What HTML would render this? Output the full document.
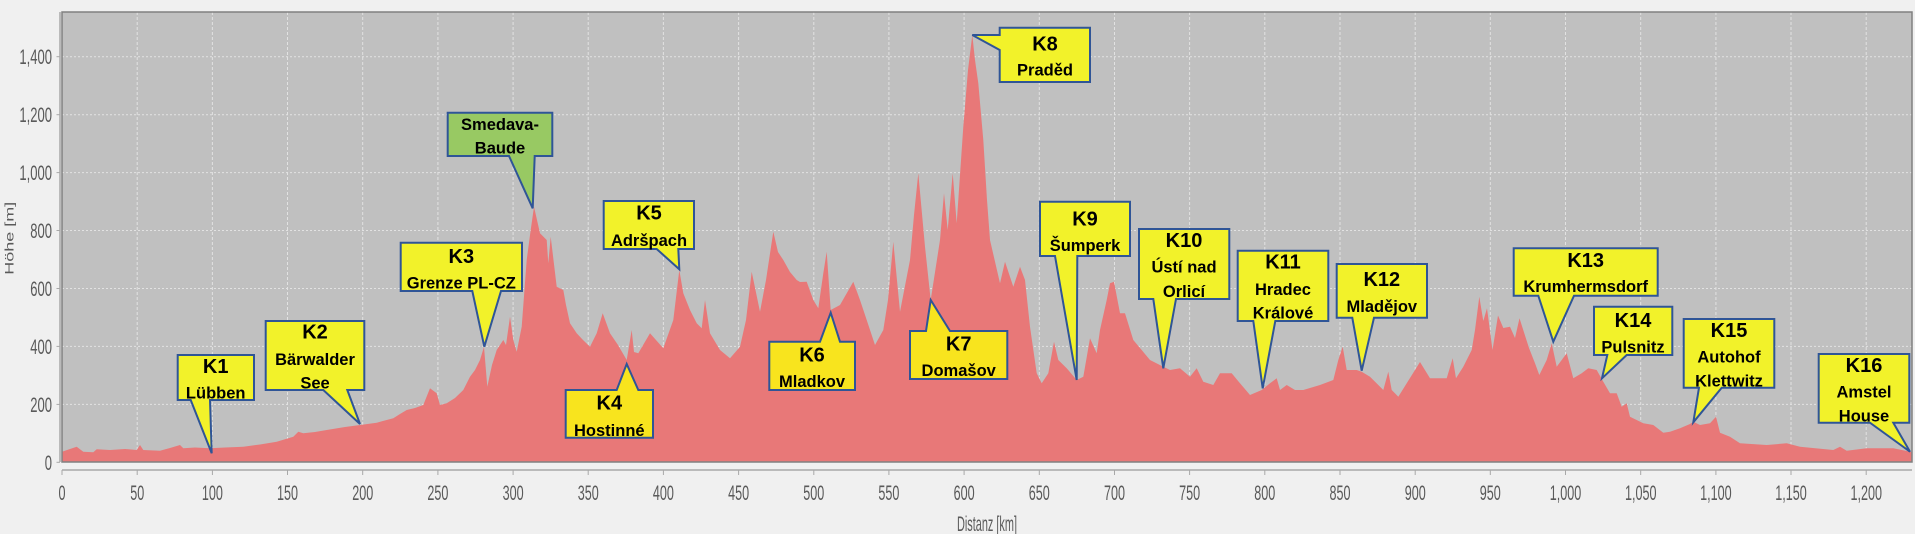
<!DOCTYPE html>
<html><head><meta charset="utf-8"><style>
html,body{margin:0;padding:0;background:#f0f0f0;}
svg{display:block;}
.ax{font-family:"Liberation Sans",sans-serif;font-size:21px;fill:#5a5a5a;}
.cb{font-family:"Liberation Sans",sans-serif;font-weight:bold;fill:#000;text-anchor:middle;}
.k{font-size:20px;}
.n{font-size:16.5px;}
.co{stroke:#2f5597;stroke-width:2;stroke-linejoin:miter;}
</style></head><body>
<svg width="1915" height="534" viewBox="0 0 1915 534" xmlns="http://www.w3.org/2000/svg">
<rect x="0" y="0" width="1915" height="534" fill="#f0f0f0"/>
<rect x="62" y="12" width="1850" height="450" fill="#c0c0c0"/>
<!-- grid -->
<g stroke="#e2e2e2" stroke-width="1" stroke-dasharray="2 2">
<line x1="62" x2="1912" y1="404.4" y2="404.4"/>
<line x1="62" x2="1912" y1="346.4" y2="346.4"/>
<line x1="62" x2="1912" y1="288.5" y2="288.5"/>
<line x1="62" x2="1912" y1="230.5" y2="230.5"/>
<line x1="62" x2="1912" y1="172.6" y2="172.6"/>
<line x1="62" x2="1912" y1="114.7" y2="114.7"/>
<line x1="62" x2="1912" y1="56.7" y2="56.7"/>
</g>
<g stroke="#e2e2e2" stroke-width="1" stroke-dasharray="3 2">
<line y1="12" y2="462" x1="137.2" x2="137.2"/>
<line y1="12" y2="462" x1="212.4" x2="212.4"/>
<line y1="12" y2="462" x1="287.5" x2="287.5"/>
<line y1="12" y2="462" x1="362.7" x2="362.7"/>
<line y1="12" y2="462" x1="437.9" x2="437.9"/>
<line y1="12" y2="462" x1="513.1" x2="513.1"/>
<line y1="12" y2="462" x1="588.2" x2="588.2"/>
<line y1="12" y2="462" x1="663.4" x2="663.4"/>
<line y1="12" y2="462" x1="738.6" x2="738.6"/>
<line y1="12" y2="462" x1="813.8" x2="813.8"/>
<line y1="12" y2="462" x1="888.9" x2="888.9"/>
<line y1="12" y2="462" x1="964.1" x2="964.1"/>
<line y1="12" y2="462" x1="1039.3" x2="1039.3"/>
<line y1="12" y2="462" x1="1114.5" x2="1114.5"/>
<line y1="12" y2="462" x1="1189.6" x2="1189.6"/>
<line y1="12" y2="462" x1="1264.8" x2="1264.8"/>
<line y1="12" y2="462" x1="1340.0" x2="1340.0"/>
<line y1="12" y2="462" x1="1415.2" x2="1415.2"/>
<line y1="12" y2="462" x1="1490.3" x2="1490.3"/>
<line y1="12" y2="462" x1="1565.5" x2="1565.5"/>
<line y1="12" y2="462" x1="1640.7" x2="1640.7"/>
<line y1="12" y2="462" x1="1715.9" x2="1715.9"/>
<line y1="12" y2="462" x1="1791.0" x2="1791.0"/>
<line y1="12" y2="462" x1="1866.2" x2="1866.2"/>
</g>
<!-- profile -->
<polygon fill="#e87878" points="62,462 62,451.7 70,449 76.7,446.7 83.3,451.7 93.3,452.3 96.7,449.3 110,450 125,449 136.7,450 140,445 143.3,450 160,450.7 170,448 180,445 183.3,448.3 195,447.5 210,448.3 225,447.5 243.3,446.7 260,444.5 276.7,441.7 293.3,436.7 298.3,431.7 303.3,433.3 315,432 326.7,430 345,427 360,425 376.7,422.7 393.3,418.3 400,414 406.7,410 415,408 423.3,405 430,388.3 436.7,393.3 440,405 446.7,403.3 455,398 463.3,390 470,376.7 475,370 480,360 484,346.7 487.3,386.7 492,365 496.7,350 503.3,340 506,345 510,316.7 513.3,340 516.7,351.7 521.7,326.7 526.7,260 530,235 534,206.7 540,233.3 546.7,240 548.3,263.3 550.7,236.7 556.7,286.7 563.3,290 566,305 570,323.3 576.7,333.3 583,340 590,346.7 596.7,333.3 602.7,313.3 610,333.3 618,345 626.7,360 631.7,330 634,352 638.3,353.3 650,333.3 663.3,348.3 673.3,320 679.3,270 683.3,293.3 690,310 696.7,323.3 701.7,328.3 705,300 710,333.3 720,350 730,358.3 740,346.7 746,320 751.7,271.7 760,311.7 766,280 773.3,231.7 778,252 783.3,260 790,272 796.7,280 800,282 806.7,281.7 813.3,300 818.3,308.3 823.3,273.3 826.7,251.7 830.7,310 840,305 853.3,281.7 860,300 866.7,320 875,345 883.3,330 888,300 893.3,241.7 900,311.7 910,260 914,215 918.3,173.3 925,246.7 930.7,300 940,240 944,193.3 947.7,230 952.7,173.3 956.7,223.3 963.3,126.7 968,70 972.3,35 975,60 978.3,83.3 983.3,140 987,200 990,240 1000,283.3 1005,261.7 1013.3,286.7 1020,266.7 1025,280 1030,326.7 1036.7,373.3 1041.7,383.3 1048.3,373.3 1054,341.7 1058.3,360 1066.7,368.3 1076.7,380 1083.3,376.7 1090,338.3 1096.7,353.3 1100,330 1106.7,300 1110,283.3 1114,281.7 1120,313.3 1125,313.3 1133.3,340 1140,348 1150,360 1163.3,366.7 1170,370 1180,368.3 1190,376.7 1196.7,368.3 1203.3,381.7 1213.3,385 1220,373.3 1231.7,373.3 1240,383.3 1250,395 1261.7,390 1270,383.3 1276.7,378.3 1280,390 1286.7,385 1295,390 1303.3,390 1320,385 1333.3,380 1338.3,360 1342.7,346.7 1346.7,370 1356.7,370 1361.7,371.7 1370,376.7 1383.3,390 1388.3,371.7 1391.7,390 1398.3,396.7 1410,378 1420,362 1430,378.3 1446.7,378.3 1452.7,358.3 1456,378.3 1463.3,366.7 1471.7,350 1475,330 1479.3,296.7 1483.3,321 1487,308.3 1492.5,350 1498,315.5 1503.3,328 1510,326.7 1515,338 1519.5,318.3 1529,348 1535,363.3 1539.3,375 1546.7,360 1551.7,343.3 1556.7,366.7 1566.7,353.3 1573.3,378.3 1581.7,373.3 1588.3,368.3 1596.7,370 1603.3,381.7 1610,393.3 1616.7,393.3 1621.7,406.7 1626.7,403.3 1630,416.7 1643.3,423.3 1653.3,425 1663.3,432.7 1670,431.7 1680,428.3 1690,424 1693.3,421.7 1700,425 1710,423.3 1716,416.7 1720,432.7 1730,436.7 1740,443.3 1766.7,445 1786.7,443.3 1800,446.7 1833.3,450 1840,446.7 1846.7,450.7 1866.7,448.3 1893.3,448.3 1912,452 1912,462"/>
<!-- plot frame -->
<rect x="62" y="12" width="1850" height="450" fill="none" stroke="#808080" stroke-width="1.5"/>
<!-- axes -->
<line x1="60" y1="12" x2="60" y2="462" stroke="#a8a8a8" stroke-width="1.5"/>
<g stroke="#a8a8a8" stroke-width="1">
<line x1="56.5" x2="60" y1="462.3" y2="462.3"/><line x1="56.5" x2="60" y1="404.4" y2="404.4"/>
<line x1="56.5" x2="60" y1="346.4" y2="346.4"/><line x1="56.5" x2="60" y1="288.5" y2="288.5"/>
<line x1="56.5" x2="60" y1="230.5" y2="230.5"/><line x1="56.5" x2="60" y1="172.6" y2="172.6"/>
<line x1="56.5" x2="60" y1="114.7" y2="114.7"/><line x1="56.5" x2="60" y1="56.7" y2="56.7"/>
</g>
<line x1="62" y1="470" x2="1912" y2="470" stroke="#a8a8a8" stroke-width="1.5"/>
<g stroke="#a8a8a8" stroke-width="1">
<line y1="470" y2="475" x1="62" x2="62"/><line y1="470" y2="475" x1="137.2" x2="137.2"/><line y1="470" y2="475" x1="212.4" x2="212.4"/><line y1="470" y2="475" x1="287.5" x2="287.5"/><line y1="470" y2="475" x1="362.7" x2="362.7"/><line y1="470" y2="475" x1="437.9" x2="437.9"/><line y1="470" y2="475" x1="513.1" x2="513.1"/><line y1="470" y2="475" x1="588.2" x2="588.2"/><line y1="470" y2="475" x1="663.4" x2="663.4"/><line y1="470" y2="475" x1="738.6" x2="738.6"/><line y1="470" y2="475" x1="813.8" x2="813.8"/><line y1="470" y2="475" x1="888.9" x2="888.9"/><line y1="470" y2="475" x1="964.1" x2="964.1"/><line y1="470" y2="475" x1="1039.3" x2="1039.3"/><line y1="470" y2="475" x1="1114.5" x2="1114.5"/><line y1="470" y2="475" x1="1189.6" x2="1189.6"/><line y1="470" y2="475" x1="1264.8" x2="1264.8"/><line y1="470" y2="475" x1="1340.0" x2="1340.0"/><line y1="470" y2="475" x1="1415.2" x2="1415.2"/><line y1="470" y2="475" x1="1490.3" x2="1490.3"/><line y1="470" y2="475" x1="1565.5" x2="1565.5"/><line y1="470" y2="475" x1="1640.7" x2="1640.7"/><line y1="470" y2="475" x1="1715.9" x2="1715.9"/><line y1="470" y2="475" x1="1791.0" x2="1791.0"/><line y1="470" y2="475" x1="1866.2" x2="1866.2"/>
</g>
<!-- y tick labels -->
<g class="ax" text-anchor="end">
<text transform="translate(52,469.8) scale(0.62,1)">0</text>
<text transform="translate(52,411.9) scale(0.62,1)">200</text>
<text transform="translate(52,353.9) scale(0.62,1)">400</text>
<text transform="translate(52,296) scale(0.62,1)">600</text>
<text transform="translate(52,238) scale(0.62,1)">800</text>
<text transform="translate(52,180.1) scale(0.62,1)">1,000</text>
<text transform="translate(52,122.2) scale(0.62,1)">1,200</text>
<text transform="translate(52,64.2) scale(0.62,1)">1,400</text>
</g>
<!-- x tick labels -->
<g class="ax" text-anchor="middle">
<text transform="translate(62,500) scale(0.6,1)">0</text>
<text transform="translate(137.2,500) scale(0.6,1)">50</text>
<text transform="translate(212.4,500) scale(0.6,1)">100</text>
<text transform="translate(287.5,500) scale(0.6,1)">150</text>
<text transform="translate(362.7,500) scale(0.6,1)">200</text>
<text transform="translate(437.9,500) scale(0.6,1)">250</text>
<text transform="translate(513.1,500) scale(0.6,1)">300</text>
<text transform="translate(588.2,500) scale(0.6,1)">350</text>
<text transform="translate(663.4,500) scale(0.6,1)">400</text>
<text transform="translate(738.6,500) scale(0.6,1)">450</text>
<text transform="translate(813.8,500) scale(0.6,1)">500</text>
<text transform="translate(888.9,500) scale(0.6,1)">550</text>
<text transform="translate(964.1,500) scale(0.6,1)">600</text>
<text transform="translate(1039.3,500) scale(0.6,1)">650</text>
<text transform="translate(1114.5,500) scale(0.6,1)">700</text>
<text transform="translate(1189.6,500) scale(0.6,1)">750</text>
<text transform="translate(1264.8,500) scale(0.6,1)">800</text>
<text transform="translate(1340,500) scale(0.6,1)">850</text>
<text transform="translate(1415.2,500) scale(0.6,1)">900</text>
<text transform="translate(1490.3,500) scale(0.6,1)">950</text>
<text transform="translate(1565.5,500) scale(0.6,1)">1,000</text>
<text transform="translate(1640.7,500) scale(0.6,1)">1,050</text>
<text transform="translate(1715.9,500) scale(0.6,1)">1,100</text>
<text transform="translate(1791,500) scale(0.6,1)">1,150</text>
<text transform="translate(1866.2,500) scale(0.6,1)">1,200</text>
</g>
<text class="ax" text-anchor="middle" transform="translate(987,531) scale(0.52,1)">Distanz [km]</text>
<text class="ax" style="font-size:12px" text-anchor="middle" transform="translate(13.5,238.3) rotate(-90) scale(1.5,1)">Höhe [m]</text>

<!-- callouts -->
<g class="co">
<path fill="#f2f22a" d="M177.7,355 H254 V400 H210 L211.7,453.3 L190.7,400 H177.7 Z"/>
<path fill="#f2f22a" d="M265.7,321 H364.3 V390 H347.3 L360,424 L323.3,390 H265.7 Z"/>
<path fill="#f2f22a" d="M400.7,242.7 H522 V291 H501 L484.3,346.7 L472.3,291 H400.7 Z"/>
<path fill="#98c963" d="M447.7,112.7 H552.3 V156 H534.7 L532.7,208.3 L509,156 H447.7 Z"/>
<path fill="#f8e41e" d="M565.7,390 H616.7 L626.7,364 L638.3,390 H653 V437.7 H565.7 Z"/>
<path fill="#f2f22a" d="M603.7,201 H694 V249 H678.3 L679.3,269.3 L656.7,249 H603.7 Z"/>
<path fill="#f8e41e" d="M769.3,341.7 H820 L830.7,312.7 L840,341.7 H855 V390 H769.3 Z"/>
<path fill="#f8e41e" d="M910,331 H926 L930.7,300 L950,331 H1007.3 V379 H910 Z"/>
<path fill="#f2f22a" d="M999.7,27.7 H1090 V82 H999.7 V50 L972.3,35 L999.7,35 Z"/>
<path fill="#f2f22a" d="M1040,201.7 H1130 V256 H1077.3 L1076.7,380 L1055,256 H1040 Z"/>
<path fill="#f2f22a" d="M1139,229 H1229.3 V299 H1176 L1163.3,368.3 L1153.3,299 H1139 Z"/>
<path fill="#f2f22a" d="M1237.7,250.7 H1328.3 V321 H1275.3 L1262.7,388.3 L1253.3,321 H1237.7 Z"/>
<path fill="#f2f22a" d="M1336.7,264 H1427 V317.7 H1374 L1361.7,370.7 L1352.3,317.7 H1336.7 Z"/>
<path fill="#f2f22a" d="M1513.7,248.3 H1657.7 V295.7 H1574 L1553.3,341.7 L1538.3,295.7 H1513.7 Z"/>
<path fill="#f2f22a" d="M1594,306.7 H1672.3 V355 H1626.7 L1602,378.3 L1607.3,355 H1594 Z"/>
<path fill="#f2f22a" d="M1683.7,319 H1774.3 V387.7 H1721.7 L1693.3,422.3 L1699,387.7 H1683.7 Z"/>
<path fill="#f2f22a" d="M1818.7,354 H1909.3 V422.7 H1893.3 L1910,451.7 L1870,422.7 H1818.7 Z"/>
</g>
<g class="cb">
<text class="k" x="215.7" y="373">K1</text><text class="n" x="215.7" y="398.5">Lübben</text>
<text class="k" x="315" y="338.7">K2</text><text class="n" x="315" y="365">Bärwalder</text><text class="n" x="315" y="388.7">See</text>
<text class="k" x="461.3" y="263">K3</text><text class="n" x="461.3" y="288.7">Grenze PL-CZ</text>
<text class="n" x="500" y="130">Smedava-</text><text class="n" x="500" y="153.7">Baude</text>
<text class="k" x="609.3" y="409.3">K4</text><text class="n" x="609.3" y="436">Hostinné</text>
<text class="k" x="649" y="219.7">K5</text><text class="n" x="649" y="246">Adršpach</text>
<text class="k" x="812" y="361.3">K6</text><text class="n" x="812" y="387">Mladkov</text>
<text class="k" x="958.7" y="350.3">K7</text><text class="n" x="958.7" y="376">Domašov</text>
<text class="k" x="1045" y="50.3">K8</text><text class="n" x="1045" y="75.3">Praděd</text>
<text class="k" x="1085" y="225.3">K9</text><text class="n" x="1085" y="251">Šumperk</text>
<text class="k" x="1184" y="247">K10</text><text class="n" x="1184" y="272.7">Ústí nad</text><text class="n" x="1184" y="297">Orlicí</text>
<text class="k" x="1283" y="268.7">K11</text><text class="n" x="1283" y="295">Hradec</text><text class="n" x="1283" y="318.7">Králové</text>
<text class="k" x="1381.8" y="286">K12</text><text class="n" x="1381.8" y="312">Mladějov</text>
<text class="k" x="1585.7" y="267">K13</text><text class="n" x="1585.7" y="292">Krumhermsdorf</text>
<text class="k" x="1633" y="327">K14</text><text class="n" x="1633" y="352.7">Pulsnitz</text>
<text class="k" x="1729" y="337">K15</text><text class="n" x="1729" y="362.7">Autohof</text><text class="n" x="1729" y="386.7">Klettwitz</text>
<text class="k" x="1864" y="372">K16</text><text class="n" x="1864" y="397.7">Amstel</text><text class="n" x="1864" y="421.7">House</text>
</g>
</svg>
</body></html>
